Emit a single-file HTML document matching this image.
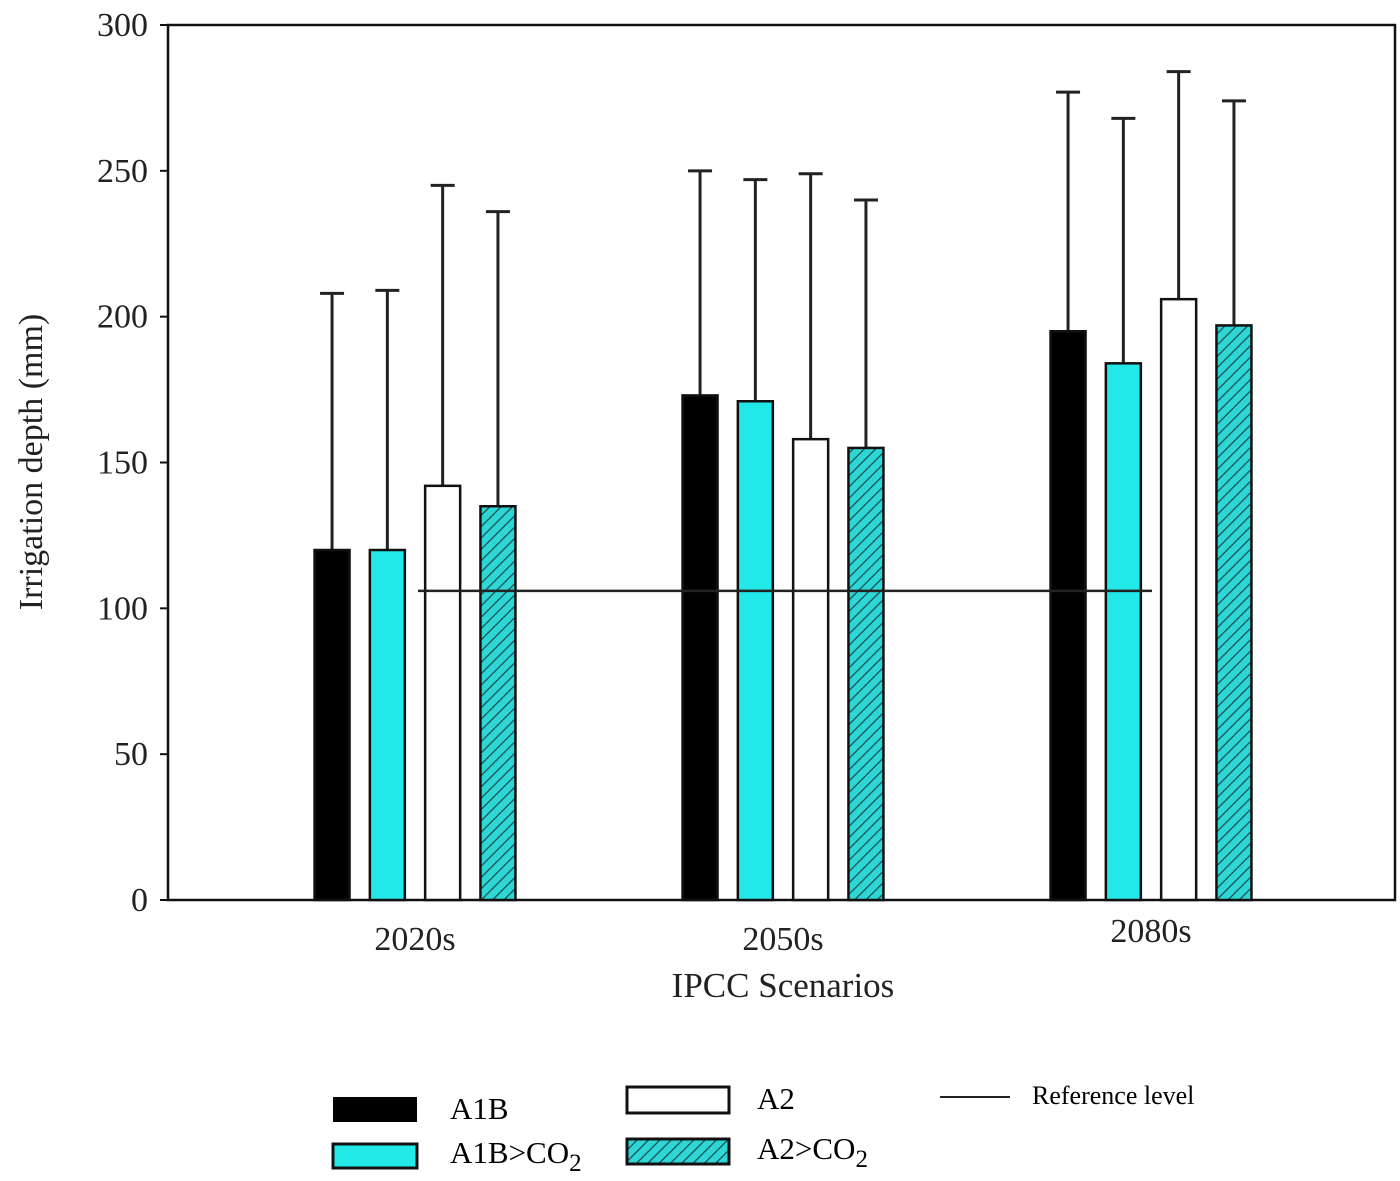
<!DOCTYPE html>
<html><head><meta charset="utf-8"><style>
body{margin:0;background:#fff;}
svg{display:block;font-family:"Liberation Serif",serif;}
</style></head><body>
<svg id="chart" width="1400" height="1181" viewBox="0 0 1400 1181">
<defs>
<pattern id="hatch" patternUnits="userSpaceOnUse" width="8" height="8" patternTransform="rotate(45)">
<rect width="8" height="8" fill="#2fd6d6"/>
<line x1="0" y1="0" x2="0" y2="8" stroke="#1d4d4d" stroke-width="2.5"/>
</pattern>
</defs>
<g id="plot"></g>
<g id="legend">
<g>
<rect x="333" y="1097" width="84" height="25" fill="#000"/>
<text x="450" y="1119" font-size="31">A1B</text></g>
<g>
<rect x="333" y="1144" width="84" height="24" fill="#22e8e8" stroke="#111" stroke-width="3"/>
<text x="450" y="1163" font-size="31">A1B&gt;CO<tspan font-size="25" dy="8">2</tspan></text></g>
<g>
<rect x="627" y="1087" width="102" height="26" fill="#fff" stroke="#111" stroke-width="3"/>
<text x="757" y="1109" font-size="31">A2</text></g>
<g>
<rect x="627" y="1139" width="102" height="25" fill="url(#hatch)" stroke="#111" stroke-width="3"/>
<text x="757" y="1159" font-size="31">A2&gt;CO<tspan font-size="25" dy="8">2</tspan></text></g>
<g>
<line x1="940" y1="1097" x2="1010" y2="1097" stroke="#222" stroke-width="2"/>
<text x="1032" y="1104" font-size="26">Reference level</text></g>
</g>
</svg>
<script>
const categories = ["2020s","2050s","2080s"];
const seriesNames = ["A1B","A1B>CO2","A2","A2>CO2"];
const a1b = [120,173,195];
const a1bCo2 = [120,171,184];
const a2 = [142,158,206];
const a2Co2 = [135,155,197];
const a1bErr = [208,250,277];
const a1bCo2Err = [209,247,268];
const a2Err = [245,249,284];
const a2Co2Err = [236,240,274];
const yTicks = [0,50,100,150,200,250,300];
const referenceLevel = 106;

const NS="http://www.w3.org/2000/svg";
const g=document.getElementById('plot');
const X0=168,X1=1395,Y0=900,Y1=25;
const y=v=>Y0-(v/300)*(Y0-Y1);
const groupCenter=i=>415+i*368;
const barW=35, step=55.3;
const barX=(i,s)=>groupCenter(i)+(s-1.5)*step-barW/2;
function mk(t,a){const e=document.createElementNS(NS,t);for(const k in a)e.setAttribute(k,a[k]);g.appendChild(e);return e;}

let e=mk('rect',{x:X0,y:Y1,width:X1-X0,height:Y0-Y1,fill:'none',stroke:'#111','stroke-width':2.5});



yTicks.forEach(t=>{
 let l=mk('line',{x1:X0-8,y1:y(t),x2:X0,y2:y(t),stroke:'#111','stroke-width':2});
 
 
 let tx=mk('text',{x:X0-20,y:y(t)+11,'font-size':34,'text-anchor':'end',fill:'#222'});
 tx.textContent=t;
 
 
});
categories.forEach((c,i)=>{
 let tx=mk('text',{x:groupCenter(i),y:i==2?942:950,'font-size':34,'text-anchor':'middle',fill:'#222'});
 tx.textContent=c;
 
 
});
let xt=mk('text',{x:783,y:997,'font-size':35,'text-anchor':'middle',fill:'#222'});
xt.textContent='IPCC Scenarios';


let yt=mk('text',{x:0,y:0,'font-size':34,'text-anchor':'middle',fill:'#222',transform:'translate(42,462) rotate(-90)'});
yt.textContent='Irrigation depth (mm)';



const vals=[a1b,a1bCo2,a2,a2Co2];
const errs=[a1bErr,a1bCo2Err,a2Err,a2Co2Err];
const fills=['#000','#22e8e8','#fff','url(#hatch)'];
vals.forEach((arr,s)=>{
 arr.forEach((v,i)=>{
  const x=barX(i,s);
  let er=mk('line',{x1:x+barW/2,y1:y(v),x2:x+barW/2,y2:y(errs[s][i]),stroke:'#222','stroke-width':3});
  
  
  let cap=mk('line',{x1:x+barW/2-12,y1:y(errs[s][i]),x2:x+barW/2+12,y2:y(errs[s][i]),stroke:'#222','stroke-width':3});
  
  
  let b=mk('rect',{x:x,y:y(v),width:barW,height:Y0-y(v),fill:fills[s],stroke:'#111','stroke-width':2.5});
  
  
 });
});
let ref=mk('line',{x1:418,y1:y(referenceLevel),x2:1152,y2:y(referenceLevel),stroke:'#222','stroke-width':2.5});


</script>
</body></html>
